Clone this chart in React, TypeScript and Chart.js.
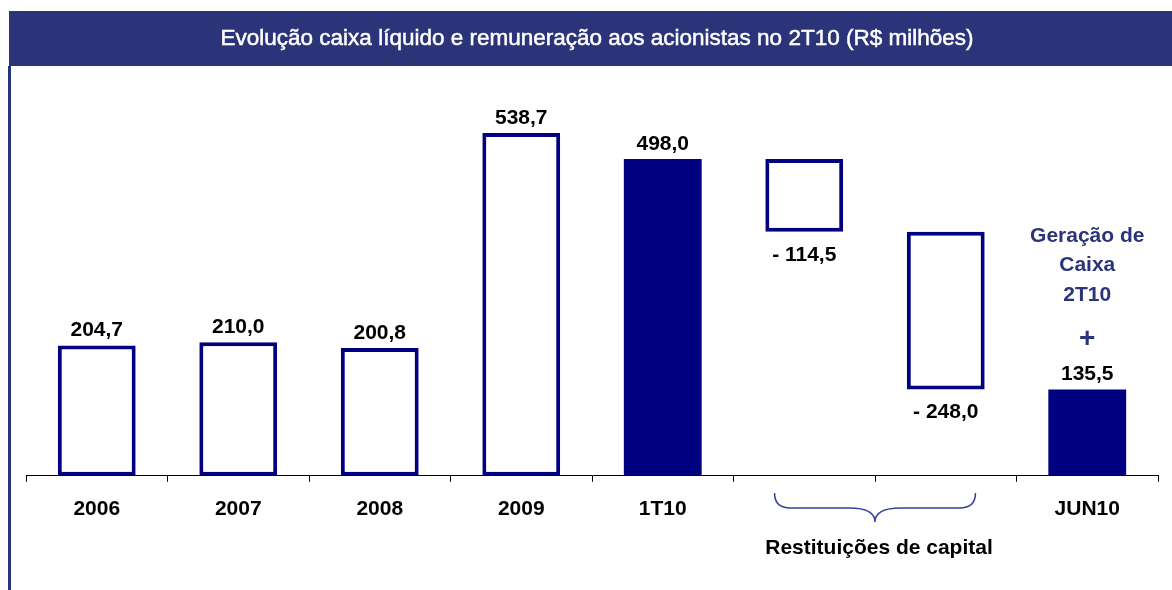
import React, { useEffect, useRef } from "react";
import { Chart, registerables } from "chart.js";

Chart.register(...registerables);

const titleText = "Evolução caixa líquido e remuneração aos acionistas no 2T10 (R$ milhões)";
const categories = ["2006", "2007", "2008", "2009", "1T10", "", "", "JUN10"];
const barStarts = [0, 0, 0, 0, 0, 383.5, 135.5, 0];
const barEnds = [204.7, 210.0, 200.8, 538.7, 498.0, 498.0, 383.5, 135.5];
const valueLabels = ["204,7", "210,0", "200,8", "538,7", "498,0", "- 114,5", "- 248,0", "135,5"];
const labelBelow = [false, false, false, false, false, true, true, false];
const filledBars = [false, false, false, false, true, false, false, true];
const braceLabel = "Restituições de capital";
const braceCategories = [5, 6];
const noteLines = ["Geração de", "Caixa", "2T10"];
const noteSign = "+";
const noteCategory = 7;

const NAVY = "#000080";
const DARK = "#2b3479";
const FONT = "'Liberation Sans', Arial, sans-serif";

const decorPlugin = {
  id: "decor",
  beforeDraw(chart: any) {
    const ctx = chart.ctx;
    ctx.save();
    ctx.fillStyle = "#ffffff";
    ctx.fillRect(0, 0, chart.width, chart.height);
    // title bar
    ctx.fillStyle = DARK;
    ctx.fillRect(9, 11, chart.width - 9, 55);
    ctx.fillStyle = "#ffffff";
    ctx.strokeStyle = "#ffffff";
    ctx.lineWidth = 0.5;
    ctx.font = `22.5px ${FONT}`;
    ctx.textAlign = "center";
    ctx.textBaseline = "middle";
    ctx.fillText(titleText, 597, 39);
    ctx.strokeText(titleText, 597, 39);
    // left rule
    ctx.fillStyle = DARK;
    ctx.fillRect(8, 66, 3, chart.height - 66);
    ctx.restore();
  },
  afterDatasetsDraw(chart: any) {
    const ctx = chart.ctx;
    const meta = chart.getDatasetMeta(0);
    const xs = chart.scales.x;
    ctx.save();
    ctx.fillStyle = "#000";
    ctx.font = `bold 21px ${FONT}`;
    ctx.textAlign = "center";
    ctx.textBaseline = "middle";
    meta.data.forEach((bar: any, i: number) => {
      const props = bar.getProps(["x", "y", "base"], true);
      const top = Math.min(props.y, props.base);
      const bottom = Math.max(props.y, props.base);
      if (labelBelow[i]) ctx.fillText(valueLabels[i], props.x, bottom + 23);
      else ctx.fillText(valueLabels[i], props.x, top - 15);
    });

    // brace
    const c0 = xs.getPixelForValue(braceCategories[0]);
    const c1 = xs.getPixelForValue(braceCategories[1]);
    const xc = (c0 + c1) / 2;
    const half = (c1 - c0) * 0.71;
    const x0 = xc - half;
    const x1 = xc + half;
    const yTop = 493;
    const yMid = 508;
    const yTip = 522;
    const r = 16;
    const rc = 26;
    ctx.strokeStyle = "#3b40a0";
    ctx.lineWidth = 1.5;
    ctx.beginPath();
    ctx.moveTo(x0, yTop);
    ctx.quadraticCurveTo(x0, yMid, x0 + r, yMid);
    ctx.lineTo(xc - rc, yMid);
    ctx.quadraticCurveTo(xc, yMid, xc, yTip);
    ctx.quadraticCurveTo(xc, yMid, xc + rc, yMid);
    ctx.lineTo(x1 - r, yMid);
    ctx.quadraticCurveTo(x1, yMid, x1, yTop);
    ctx.stroke();
    ctx.fillStyle = "#000";
    ctx.fillText(braceLabel, xc + 4, 548);

    // note
    const nx = xs.getPixelForValue(noteCategory);
    ctx.fillStyle = DARK;
    noteLines.forEach((t, i) => ctx.fillText(t, nx, 236 + i * 29.5));
    ctx.font = `bold 28px ${FONT}`;
    ctx.fillText(noteSign, nx, 339);
    ctx.restore();
  },
};

export default function App() {
  const ref = useRef<HTMLCanvasElement | null>(null);
  useEffect(() => {
    if (!ref.current) return;
    const chart = new Chart(ref.current, {
      type: "bar",
      data: {
        labels: categories,
        datasets: [
          {
            data: barStarts.map((s, i) => [s, barEnds[i]]) as any,
            backgroundColor: filledBars.map((f) => (f ? NAVY : "#ffffff")),
            borderColor: NAVY,
            borderWidth: filledBars.map((f) => (f ? 0 : 4)),
            borderSkipped: false,
            barPercentage: 0.55,
            categoryPercentage: 1,
          },
        ],
      },
      options: {
        responsive: false,
        animation: false,
        devicePixelRatio: 1,
        layout: { padding: { left: 26, right: 14, top: 94, bottom: 53 } },
        plugins: {
          legend: { display: false },
          tooltip: { enabled: false },
          title: { display: false },
        },
        scales: {
          x: {
            offset: true,
            grid: {
              offset: true,
              display: true,
              drawOnChartArea: false,
              drawTicks: true,
              tickLength: 6,
              color: "#000",
              lineWidth: 1,
            },
            border: { display: true, color: "#000", width: 1 },
            ticks: {
              color: "#000",
              font: { family: FONT, size: 21, weight: "bold" },
              padding: 15,
              maxRotation: 0,
              autoSkip: false,
            },
          },
          y: { display: false, min: 0, max: 600 },
        },
      },
      plugins: [decorPlugin],
    });
    return () => chart.destroy();
  }, []);
  return (
    <div style={{ position: "fixed", left: 0, top: 0, width: 1172, height: 590 }}>
      <canvas ref={ref} width={1172} height={590} style={{ display: "block" }} />
    </div>
  );
}
